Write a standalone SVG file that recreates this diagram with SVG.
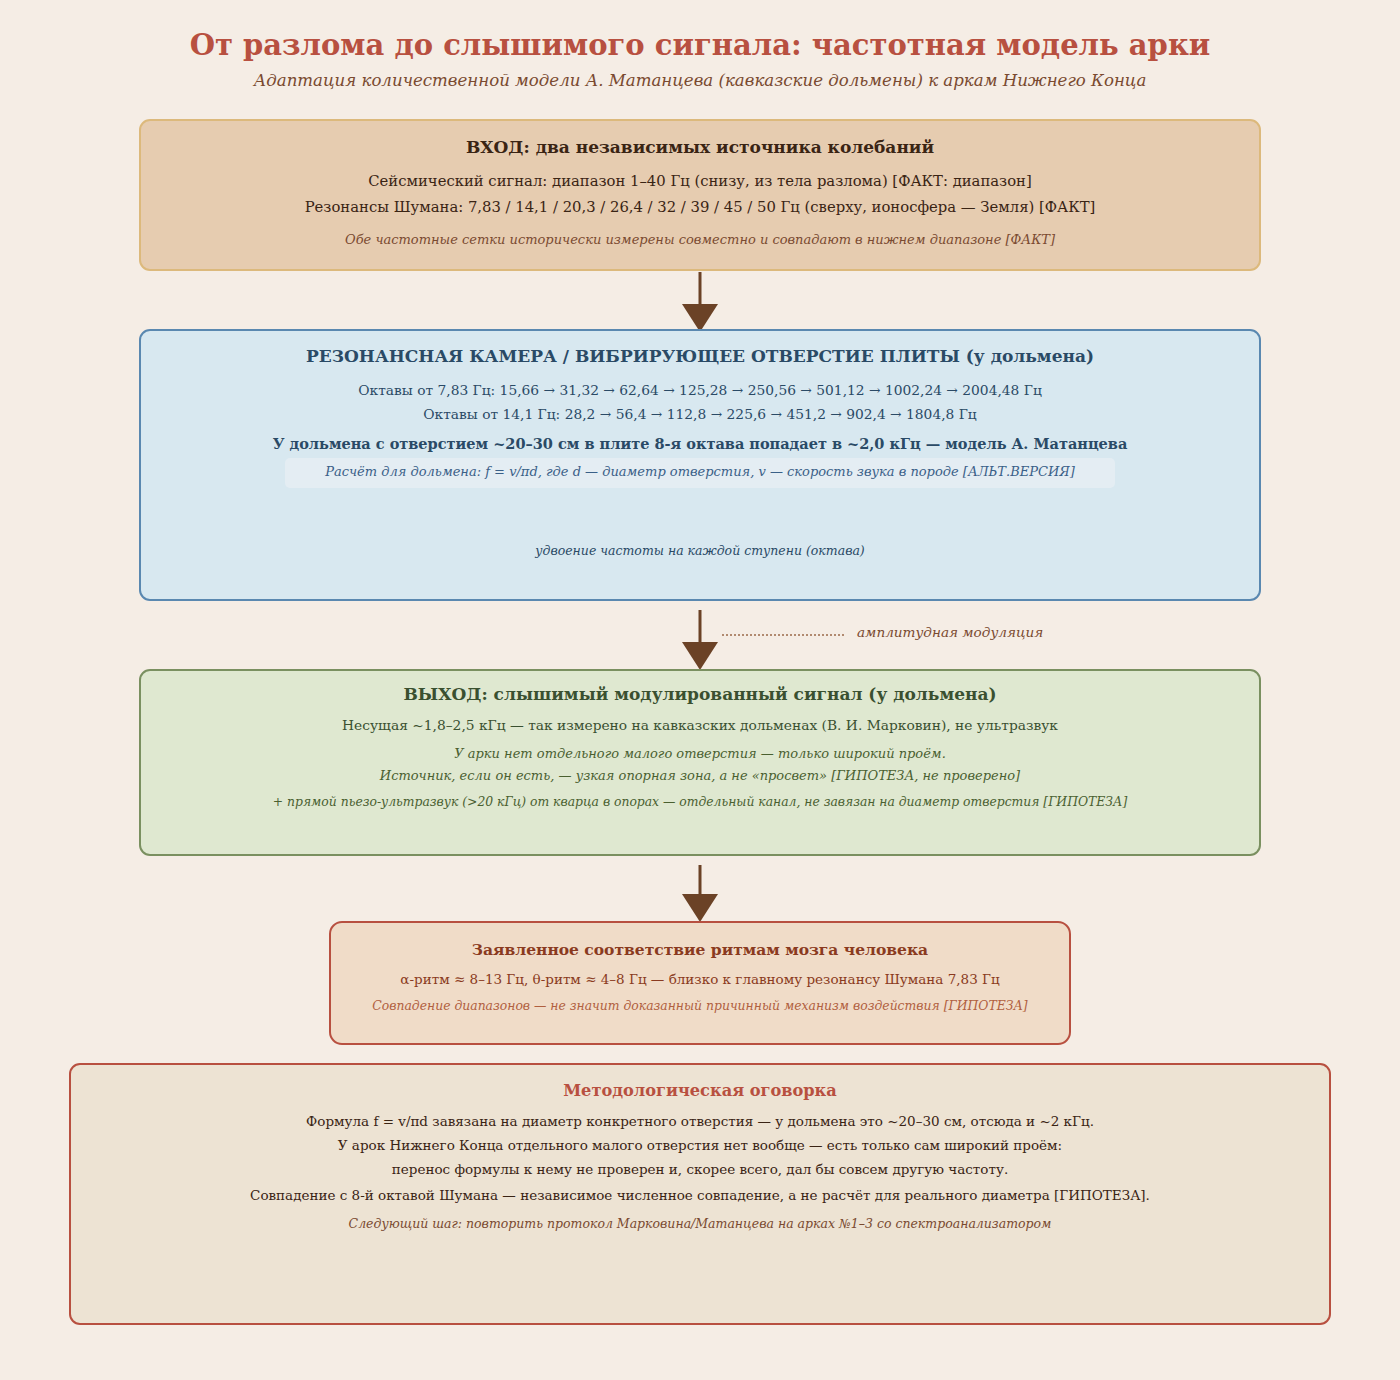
<svg xmlns="http://www.w3.org/2000/svg" width="1400" height="1380" viewBox="0 0 1400 1380">
<defs>
<style>
text{font-family:"DejaVu Serif","Liberation Serif",serif;text-anchor:middle}
.t{font-size:29px;font-weight:bold;fill:#b85040}
.st{font-size:16.6px;font-style:italic;fill:#7a4a30}
.h{font-size:17px;font-weight:bold}
.n{font-size:14px}
.s{font-size:13.5px}
.i{font-size:13px;font-style:italic}
.i12{font-size:12.5px;font-style:italic}
.arr{stroke:#6b4226;stroke-width:3;fill:none}
.ah{fill:#6b4226}
</style>
</defs>
<rect width="1400" height="1380" fill="#f5ede5"/>
<text class="t" x="700" y="55">От разлома до слышимого сигнала: частотная модель арки</text>
<text class="st" x="700" y="86">Адаптация количественной модели А. Матанцева (кавказские дольмены) к аркам Нижнего Конца</text>

<g id="connectors">
<line class="arr" x1="700" y1="272" x2="700" y2="306"/>
<polygon class="ah" points="682,304 718,304 700,332"/>
<line class="arr" x1="700" y1="610" x2="700" y2="644"/>
<polygon class="ah" points="682,642 718,642 700,670"/>
<line x1="722" y1="635" x2="845" y2="635" stroke="#9a6a4a" stroke-width="1.5" stroke-dasharray="2,2"/>
<text class="i" x="857" y="637" style="text-anchor:start;fill:#7a4a30;font-size:13.6px">амплитудная модуляция</text>
<line class="arr" x1="700" y1="865" x2="700" y2="896"/>
<polygon class="ah" points="682,894 718,894 700,922"/>
</g>

<g id="input">
<rect x="140" y="120" width="1120" height="150" rx="10" fill="#e6ccb0" stroke="#dcb97c" stroke-width="2"/>
<text class="h" x="700" y="153" fill="#3a2414">ВХОД: два независимых источника колебаний</text>
<text class="n" x="700" y="186" fill="#3a2414" style="font-size:14.8px">Сейсмический сигнал: диапазон 1–40 Гц (снизу, из тела разлома) [ФАКТ: диапазон]</text>
<text class="n" x="700" y="212" fill="#3a2414" style="font-size:14.8px">Резонансы Шумана: 7,83 / 14,1 / 20,3 / 26,4 / 32 / 39 / 45 / 50 Гц (сверху, ионосфера — Земля) [ФАКТ]</text>
<text class="i" x="700" y="244" fill="#7a4a30">Обе частотные сетки исторически измерены совместно и совпадают в нижнем диапазоне [ФАКТ]</text>
</g>

<g id="resonator">
<rect x="140" y="330" width="1120" height="270" rx="10" fill="#d8e8f0" stroke="#5a88b0" stroke-width="2"/>
<text class="h" x="700" y="362" fill="#2a4a66">РЕЗОНАНСНАЯ КАМЕРА / ВИБРИРУЮЩЕЕ ОТВЕРСТИЕ ПЛИТЫ (у дольмена)</text>
<text class="n" x="700" y="395" fill="#2a4a66" style="font-size:13.8px">Октавы от 7,83 Гц: 15,66 → 31,32 → 62,64 → 125,28 → 250,56 → 501,12 → 1002,24 → 2004,48 Гц</text>
<text class="n" x="700" y="419" fill="#2a4a66" style="font-size:13.8px">Октавы от 14,1 Гц: 28,2 → 56,4 → 112,8 → 225,6 → 451,2 → 902,4 → 1804,8 Гц</text>
<text class="n" x="700" y="449" fill="#2a4a66" style="font-size:14.5px;font-weight:bold">У дольмена с отверстием ~20–30 см в плите 8-я октава попадает в ~2,0 кГц — модель А. Матанцева</text>
<rect x="285" y="458" width="830" height="30" rx="5" fill="#e4edf3"/>
<text class="i" x="700" y="476" fill="#3a6088">Расчёт для дольмена: f = v/πd, где d — диаметр отверстия, v — скорость звука в породе [АЛЬТ.ВЕРСИЯ]</text>
<text class="i12" x="700" y="555" fill="#2a4a66">удвоение частоты на каждой ступени (октава)</text>
</g>

<g id="output">
<rect x="140" y="670" width="1120" height="185" rx="10" fill="#dfe8d0" stroke="#7a9060" stroke-width="2"/>
<text class="h" x="700" y="700" fill="#3a5030">ВЫХОД: слышимый модулированный сигнал (у дольмена)</text>
<text class="n" x="700" y="730" fill="#3a5030" style="font-size:13.8px">Несущая ~1,8–2,5 кГц — так измерено на кавказских дольменах (В. И. Марковин), не ультразвук</text>
<text class="i" x="700" y="758" fill="#4a6030">У арки нет отдельного малого отверстия — только широкий проём.</text>
<text class="i" x="700" y="780" fill="#4a6030">Источник, если он есть, — узкая опорная зона, а не «просвет» [ГИПОТЕЗА, не проверено]</text>
<text class="i12" x="700" y="806" fill="#4a6030" style="font-size:12.37px">+ прямой пьезо-ультразвук (&gt;20 кГц) от кварца в опорах — отдельный канал, не завязан на диаметр отверстия [ГИПОТЕЗА]</text>
</g>

<g id="brain">
<rect x="330" y="922" width="740" height="122" rx="12" fill="#f0dcc8" stroke="#b85040" stroke-width="2"/>
<text class="h" x="700" y="955" fill="#8a3a20" style="font-size:15.5px">Заявленное соответствие ритмам мозга человека</text>
<text class="s" x="700" y="984" fill="#8a3a20">α-ритм ≈ 8–13 Гц, θ-ритм ≈ 4–8 Гц — близко к главному резонансу Шумана 7,83 Гц</text>
<text class="i12" x="700" y="1010" fill="#b06040" style="font-size:12.4px">Совпадение диапазонов — не значит доказанный причинный механизм воздействия [ГИПОТЕЗА]</text>
</g>

<g id="caveat">
<rect x="70" y="1064" width="1260" height="260" rx="10" fill="#ede3d3" stroke="#b85040" stroke-width="2"/>
<text class="h" x="700" y="1096" fill="#b85040" style="font-size:16.2px">Методологическая оговорка</text>
<text class="s" x="700" y="1126" fill="#3a2414">Формула f = v/πd завязана на диаметр конкретного отверстия — у дольмена это ~20–30 см, отсюда и ~2 кГц.</text>
<text class="s" x="700" y="1150" fill="#3a2414">У арок Нижнего Конца отдельного малого отверстия нет вообще — есть только сам широкий проём:</text>
<text class="s" x="700" y="1174" fill="#3a2414">перенос формулы к нему не проверен и, скорее всего, дал бы совсем другую частоту.</text>
<text class="s" x="700" y="1200" fill="#3a2414">Совпадение с 8-й октавой Шумана — независимое численное совпадение, а не расчёт для реального диаметра [ГИПОТЕЗА].</text>
<text class="i12" x="700" y="1228" fill="#7a4a30">Следующий шаг: повторить протокол Марковина/Матанцева на арках №1–3 со спектроанализатором</text>
</g>
</svg>
